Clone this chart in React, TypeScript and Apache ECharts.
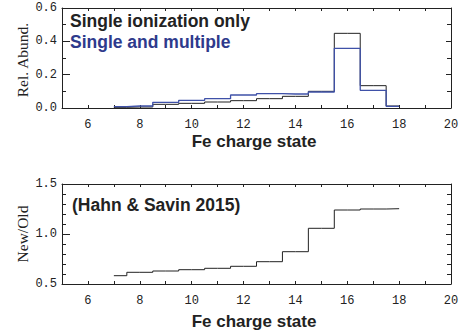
import React, { useEffect, useRef } from "react";
import * as echarts from "echarts";

// Fe charge states (bin centres) shared by both panels
const chargeStates = [7, 8, 9, 10, 11, 12, 13, 14, 15, 16, 17, 18];

// Relative abundance, single ionization only
const singleOnly = [0.004, 0.006, 0.022, 0.028, 0.036, 0.044, 0.056, 0.07, 0.1, 0.448, 0.134, 0.012];
// Relative abundance, single and multiple ionization
const singleMultiple = [0.008, 0.012, 0.034, 0.046, 0.056, 0.078, 0.086, 0.084, 0.096, 0.358, 0.106, 0.01];

// Ratio of new to old rates (Hahn & Savin 2015)
const newOverOld = [0.583, 0.617, 0.63, 0.643, 0.657, 0.677, 0.723, 0.823, 1.057, 1.24, 1.25, 1.253];

const xTickLabels = ["6", "8", "10", "12", "14", "16", "18", "20"];

const INK = "#222";
const BLUE = "#3f51a8";
const TICK_FONT = "Liberation Mono";
const SANS = "Liberation Sans";
const SERIF = "Liberation Serif";

const pairs = (xs: number[], ys: number[]) => xs.map((x, i) => [x, ys[i]]);

function xAxes(gridIndex: number) {
  const common = {
    type: "value" as const,
    gridIndex,
    min: 5,
    max: 20,
    interval: 1,
    splitLine: { show: false },
    axisLine: { show: true, onZero: false, lineStyle: { color: INK, width: 1 } },
    axisTick: { show: true, inside: true, length: 3, lineStyle: { color: INK } },
  };
  return [
    {
      ...common,
      position: "bottom",
      axisLabel: {
        show: true,
        margin: 11,
        color: INK,
        fontFamily: TICK_FONT,
        fontSize: 12,
        formatter: (v: number) => (xTickLabels.includes(String(v)) ? String(v) : ""),
      },
    },
    { ...common, position: "top", axisLabel: { show: false } },
  ];
}

function yAxes(gridIndex: number, min: number, max: number, interval: number, minorSplit: number) {
  const common = {
    type: "value" as const,
    gridIndex,
    min,
    max,
    interval,
    splitLine: { show: false },
    minorSplitLine: { show: false },
    axisLine: { show: true, onZero: false, lineStyle: { color: INK, width: 1 } },
  };
  return [
    {
      ...common,
      position: "left",
      axisTick: { show: true, inside: true, length: 8, lineStyle: { color: INK } },
      minorTick: { show: true, splitNumber: minorSplit, length: 4, lineStyle: { color: INK } },
      axisLabel: {
        show: true,
        margin: 5,
        color: INK,
        fontFamily: TICK_FONT,
        fontSize: 12,
        formatter: (v: number) => v.toFixed(1),
      },
    },
    {
      ...common,
      position: "right",
      axisTick: { show: true, inside: true, length: 5, lineStyle: { color: INK } },
      minorTick: { show: true, splitNumber: minorSplit, length: 4, lineStyle: { color: INK } },
      axisLabel: { show: false },
    },
  ];
}

export default function App() {
  const ref = useRef<HTMLDivElement>(null);

  useEffect(() => {
    if (!ref.current) return;
    const chart = echarts.init(ref.current, null, { renderer: "svg" });

    const stepLine = (name: string, data: number[], color: string, width: number, axis: number) => ({
      name,
      type: "line",
      step: "middle",
      xAxisIndex: axis * 2,
      yAxisIndex: axis * 2,
      data: pairs(chargeStates, data),
      showSymbol: false,
      symbol: "none",
      lineStyle: { color, width },
      z: 3,
    });

    const label = (text: string, x: number, y: number, fill: string, font: string, align = "left") => ({
      type: "text",
      x,
      y,
      style: { text, fill, font, align, verticalAlign: "middle" },
    });

    chart.setOption({
      animation: false,
      backgroundColor: "#fff",
      grid: [
        { left: 62, right: 14, top: 8, height: 100 },
        { left: 62, right: 14, top: 184, height: 100 },
      ],
      xAxis: [...xAxes(0), ...xAxes(1)],
      yAxis: [...yAxes(0, 0, 0.6, 0.2, 2), ...yAxes(1, 0.5, 1.5, 0.5, 5)],
      series: [
        stepLine("Single ionization only", singleOnly, INK, 1, 0),
        stepLine("Single and multiple", singleMultiple, BLUE, 1.3, 0),
        stepLine("New/Old", newOverOld, INK, 1, 1),
      ],
      graphic: [
        label("Single ionization only", 70, 21, INK, `bold 17.5px ${SANS}`),
        label("Single and multiple", 70, 41.5, "#2e3a8c", `bold 17.5px ${SANS}`),
        label("(Hahn & Savin 2015)", 72, 205, INK, `bold 17.5px ${SANS}`),
        label("Fe charge state", 254, 141, INK, `bold 17px ${SANS}`, "center"),
        label("Fe charge state", 254, 321, INK, `bold 17px ${SANS}`, "center"),
        {
          type: "text",
          x: 22,
          y: 60,
          rotation: Math.PI / 2,
          style: { text: "Rel. Abund.", fill: INK, font: `15.5px ${SERIF}`, align: "center", verticalAlign: "middle" },
        },
        {
          type: "text",
          x: 22,
          y: 234,
          rotation: Math.PI / 2,
          style: { text: "New/Old", fill: INK, font: `15.5px ${SERIF}`, align: "center", verticalAlign: "middle" },
        },
      ],
    });

    return () => chart.dispose();
  }, []);

  return (
    <div
      ref={ref}
      style={{ position: "fixed", left: 0, top: 0, width: 465, height: 334, background: "#fff" }}
    />
  );
}
